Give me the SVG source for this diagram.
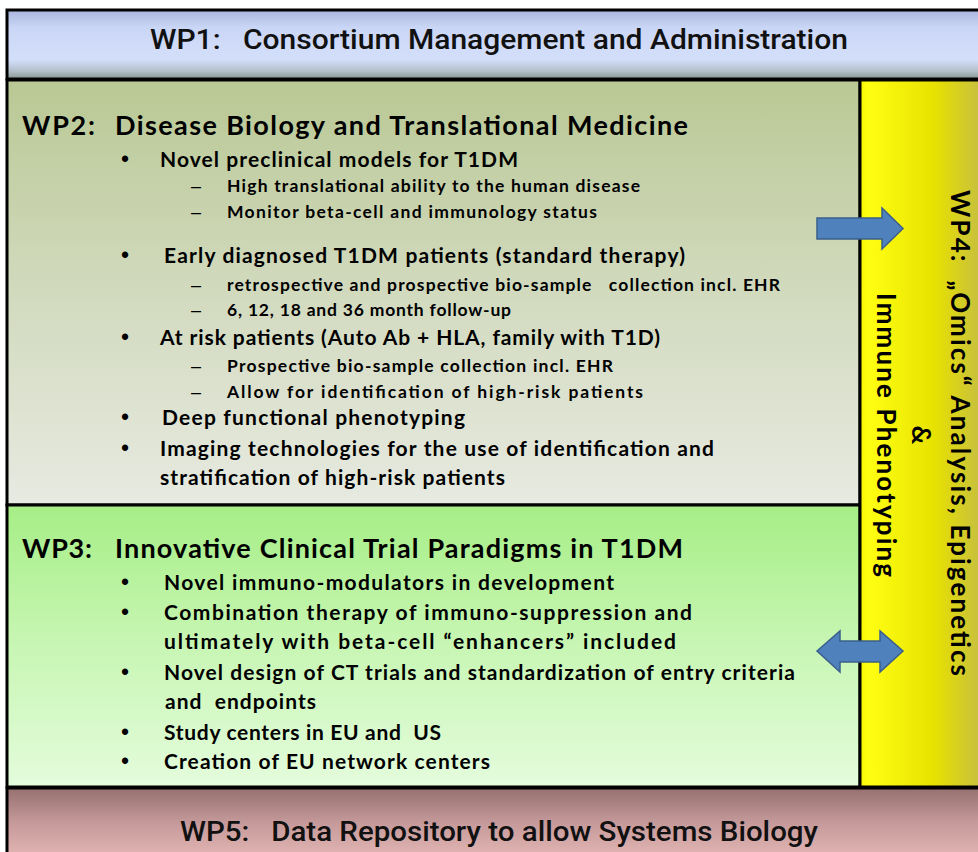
<svg xmlns="http://www.w3.org/2000/svg" width="978" height="852" viewBox="0 0 978 852">
<defs>
<linearGradient id="g1" x1="0" y1="0" x2="0" y2="1">
<stop offset="0" stop-color="#a9b5dc"/><stop offset="0.25" stop-color="#cad6f5"/><stop offset="0.72" stop-color="#d3dffa"/><stop offset="0.88" stop-color="#b4c0cc"/><stop offset="1" stop-color="#86968e"/>
</linearGradient>
<linearGradient id="g2" x1="0" y1="0" x2="0" y2="1">
<stop offset="0" stop-color="#b9c894"/><stop offset="0.5" stop-color="#d2dabe"/><stop offset="1" stop-color="#e7eae1"/>
</linearGradient>
<linearGradient id="g3" x1="0" y1="0" x2="0" y2="1">
<stop offset="0" stop-color="#a6ee86"/><stop offset="0.5" stop-color="#c8f6b4"/><stop offset="1" stop-color="#e4fcdc"/>
</linearGradient>
<linearGradient id="g4" x1="0" y1="0" x2="1" y2="0">
<stop offset="0" stop-color="#f4f400"/><stop offset="0.06" stop-color="#ffff12"/><stop offset="0.6" stop-color="#e8e200"/><stop offset="1" stop-color="#c6be40"/>
</linearGradient>
<linearGradient id="g5" x1="0" y1="0" x2="0" y2="1">
<stop offset="0" stop-color="#967070"/><stop offset="0.5" stop-color="#c69a9a"/><stop offset="1" stop-color="#e4b6b6"/>
</linearGradient>
</defs>
<style>
.box{stroke:#000;stroke-width:3}
.t{font-family:Lato,"Open Sans","Liberation Sans",sans-serif;font-weight:700;fill:#000}
.cond{font-family:Roboto,"Liberation Sans",Arial,sans-serif;font-weight:500;fill:#111}
.h{font-size:27px}
.l1{font-size:21px}
.l2{font-size:17.5px}
.b{font-family:"Liberation Sans",Arial,sans-serif;font-size:23px;fill:#000}
.d{font-family:"Liberation Sans",Arial,sans-serif;font-size:18px;fill:#000}
.arrow{fill:#4f81bd;stroke:#3a5f8c;stroke-width:1.5}
</style>
<rect width="978" height="852" fill="#fff"/>

<g id="wp1">
<rect class="box" x="7" y="10" width="975" height="69" fill="url(#g1)"/>
<text class="cond" x="150" y="49" font-size="27" textLength="698" lengthAdjust="spacingAndGlyphs" xml:space="preserve">WP1:   Consortium Management and Administration</text>
</g>

<g id="wp2">
<rect class="box" x="7" y="80" width="853" height="425" fill="url(#g2)"/>
<text class="t h" x="22" y="135" textLength="73">WP2:</text>
<text class="t h" x="115" y="135" textLength="573">Disease Biology and Translational Medicine</text>
<text class="b" x="121" y="167">•</text>
<text class="t l1" x="160" y="167" textLength="358">Novel preclinical models for T1DM</text>
<text class="d" x="191" y="192">–</text>
<text class="t l2" x="227" y="192" textLength="413">High translational ability to the human disease</text>
<text class="d" x="191" y="218">–</text>
<text class="t l2" x="227" y="218" textLength="370">Monitor beta-cell and immunology status</text>
<text class="b" x="121" y="263">•</text>
<text class="t l1" x="164" y="263" textLength="521">Early diagnosed T1DM patients (standard therapy)</text>
<text class="d" x="191" y="291">–</text>
<text class="t l2" x="227" y="291" textLength="553" xml:space="preserve">retrospective and prospective bio-sample   collection incl. EHR</text>
<text class="d" x="191" y="316">–</text>
<text class="t l2" x="227" y="316" textLength="284">6, 12, 18 and 36 month follow-up</text>
<text class="b" x="121" y="345">•</text>
<text class="t l1" x="160" y="345" textLength="500">At risk patients (Auto Ab + HLA, family with T1D)</text>
<text class="d" x="191" y="372">–</text>
<text class="t l2" x="227" y="372" textLength="386">Prospective bio-sample collection incl. EHR</text>
<text class="d" x="191" y="398">–</text>
<text class="t l2" x="227" y="398" textLength="416">Allow for identification of high-risk patients</text>
<text class="b" x="121" y="425">•</text>
<text class="t l1" x="162" y="425" textLength="303">Deep functional phenotyping</text>
<text class="b" x="121" y="456">•</text>
<text class="t l1" x="160" y="456" textLength="554">Imaging technologies for the use of identification and</text>
<text class="t l1" x="160" y="485" textLength="345">stratification of high-risk patients</text>
</g>

<g id="wp3">
<rect class="box" x="7" y="505" width="853" height="282" fill="url(#g3)"/>
<text class="t h" x="22" y="558" textLength="70">WP3:</text>
<text class="t h" x="115" y="558" textLength="568">Innovative Clinical Trial Paradigms in T1DM</text>
<text class="b" x="121" y="590">•</text>
<text class="t l1" x="164" y="590" textLength="450">Novel immuno-modulators in development</text>
<text class="b" x="121" y="620">•</text>
<text class="t l1" x="164" y="620" textLength="528">Combination therapy of immuno-suppression and</text>
<text class="t l1" x="164" y="649" textLength="512">ultimately with beta-cell “enhancers” included</text>
<text class="b" x="121" y="680">•</text>
<text class="t l1" x="164" y="680" textLength="631">Novel design of CT trials and standardization of entry criteria</text>
<text class="t l1" x="165" y="709" textLength="151" xml:space="preserve">and  endpoints</text>
<text class="b" x="121" y="740">•</text>
<text class="t l1" x="164" y="740" textLength="277" xml:space="preserve">Study centers in EU and  US</text>
<text class="b" x="121" y="769">•</text>
<text class="t l1" x="164" y="769" textLength="326">Creation of EU network centers</text>
</g>

<g id="wp4">
<rect class="box" x="860" y="80" width="122" height="707" fill="url(#g4)"/>
<text class="t" font-size="26" text-anchor="middle" transform="translate(951,433) rotate(90)" x="0" y="0" textLength="486" xml:space="preserve">WP4:  „Omics“ Analysis, Epigenetics</text>
<text class="t" font-size="26" text-anchor="middle" transform="translate(912,435) rotate(90)" x="0" y="0">&amp;</text>
<text class="t" font-size="26" text-anchor="middle" transform="translate(877,435) rotate(90)" x="0" y="0" textLength="284">Immune Phenotyping</text>
</g>

<g id="wp5">
<rect class="box" x="7" y="788" width="975" height="70" fill="url(#g5)"/>
<text class="cond" x="180" y="841" font-size="27" textLength="638" lengthAdjust="spacingAndGlyphs" xml:space="preserve">WP5:   Data Repository to allow Systems Biology</text>
</g>

<g id="connectors">
<polygon class="arrow" points="817,218 882,218 882,208 903,228.5 882,249 882,239 817,239"/>
<polygon class="arrow" points="817,651 840,631 840,641 880,641 880,631 903,651 880,672 880,662 840,662 840,672"/>
</g>
</svg>
